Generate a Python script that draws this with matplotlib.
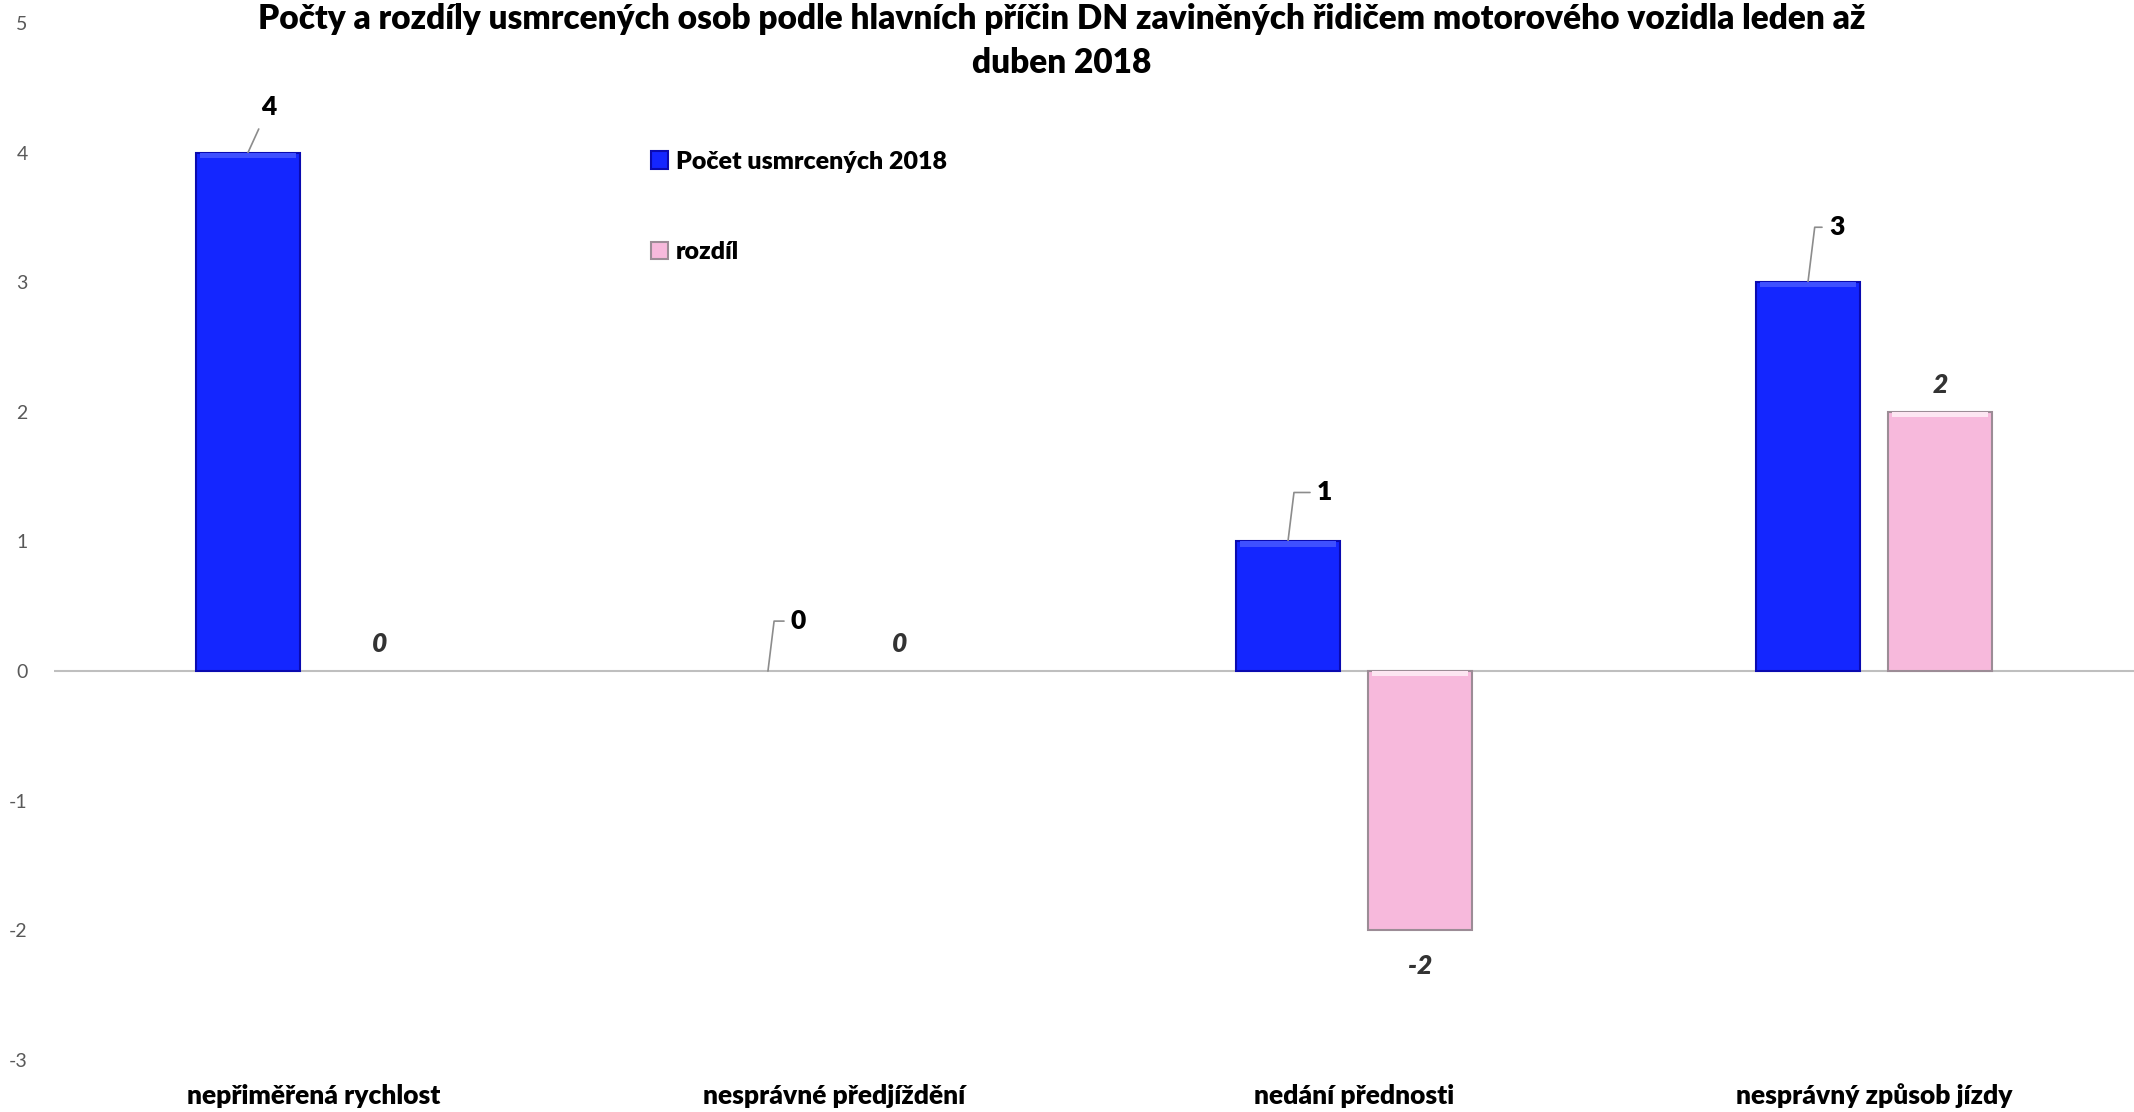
import numpy as np
import matplotlib
matplotlib.use('Agg')
from matplotlib import pyplot as plt

# data
categories = ['nepřiměřená rychlost', 'nesprávné předjíždění', 'nedání přednosti', 'nesprávný způsob jízdy']
pocet_2018 = [4, 0, 1, 3]
rozdil = [0, 0, -2, 2]
y_ticks = [-3, -2, -1, 0, 1, 2, 3, 4, 5]

title = ('Počty a rozdíly usmrcených osob podle hlavních příčin DN zaviněných řidičem motorového vozidla leden až\n'
         'duben 2018')

plt.rcParams['font.family'] = ['Lato', 'DejaVu Sans']

blue = '#1426FF'
pink = '#F7B9DC'
blue_edge = '#0A0AB0'
pink_edge = '#9C8C96'

fig = plt.figure(figsize=(21.34, 11.12), dpi=100)
ax = fig.add_axes([0.0253, 0.0468, 0.9747, 0.9325])

x = np.arange(len(categories))
w = 0.2
off = 0.127

# no outline on zero-height bars
b1 = ax.bar(x - off, pocet_2018, w, color=blue,
            edgecolor=[blue_edge if v != 0 else 'none' for v in pocet_2018], linewidth=1.5,
            label='Počet usmrcených 2018', zorder=3)
b2 = ax.bar(x + off, rozdil, w, color=pink,
            edgecolor=[pink_edge if v != 0 else 'none' for v in rozdil], linewidth=1.5,
            label='rozdíl', zorder=3)

# a light strip at the top of each bar, like the bevel in the original
for bars, hl in [(b1, '#3F50FF'), (b2, '#FDE6F2')]:
    for r in bars:
        h = r.get_height()
        if h == 0:
            continue
        top = max(h, 0)
        ax.bar(r.get_x() + r.get_width() / 2, -0.04, r.get_width() * 0.92,
               bottom=top, color=hl, linewidth=0, zorder=4)

ax.set_xlim(-0.5, len(categories) - 0.5)
ax.set_ylim(-3, 5)
ax.set_yticks(y_ticks)
ax.set_yticklabels([str(t) for t in y_ticks], fontsize=14, color='#595959')
ax.set_xticks(x)
ax.set_xticklabels(categories, fontsize=19, fontweight='heavy', color='black')
ax.tick_params(axis='y', length=0, pad=19)
ax.tick_params(axis='x', length=0, pad=17)
for s in ['top', 'right', 'left', 'bottom']:
    ax.spines[s].set_visible(False)
ax.axhline(0, color='#BFBFBF', linewidth=1.5, zorder=2)

# labels for 2018 counts with leader lines
lbl_off = [(21, -46), (23, -50), (29, -49), (21, -55)]
for i, v in enumerate(pocet_2018):
    dx, dy = lbl_off[i]
    if i == 0:
        ax.annotate(str(v), xy=(x[i] - off, v), xytext=(dx, -dy), textcoords='offset pixels',
                    ha='center', va='center', fontsize=19, fontweight='heavy', color='black',
                    arrowprops=dict(arrowstyle='-', color='#8C8C8C', lw=1.2, shrinkA=6, shrinkB=0))
    else:
        ax.annotate(str(v), xy=(x[i] - off, v), xytext=(dx, -dy), textcoords='offset pixels',
                    ha='left', va='center', fontsize=19, fontweight='heavy', color='black',
                    arrowprops=dict(arrowstyle='-', color='#8C8C8C', lw=1.2, shrinkA=3, shrinkB=0,
                                    connectionstyle='angle,angleA=0,angleB=83,rad=0'))

# labels for difference
for i, v in enumerate(rozdil):
    dy = 27 if v >= 0 else -36
    ax.annotate(str(v), xy=(x[i] + off, v), xytext=(0, dy), textcoords='offset pixels',
                ha='center', va='center', fontsize=19, fontweight='heavy', fontstyle='italic',
                color='#333333')

leg = ax.legend(loc='upper left', bbox_to_anchor=(0.281, 0.889), frameon=False, borderpad=0,
                prop={'size': 18, 'weight': 'heavy'}, labelspacing=2.75, handlelength=0.7,
                handleheight=0.7, handletextpad=0.3)
leg.legend_handles[0].set_edgecolor(blue_edge)
leg.legend_handles[1].set_edgecolor(pink_edge)

fig.text(0.4977, 1 - 41 / 1112, title, ha='center', va='center', fontsize=24,
         fontweight='heavy', color='black', linespacing=1.45)

fig.savefig('out.png', dpi=100)
